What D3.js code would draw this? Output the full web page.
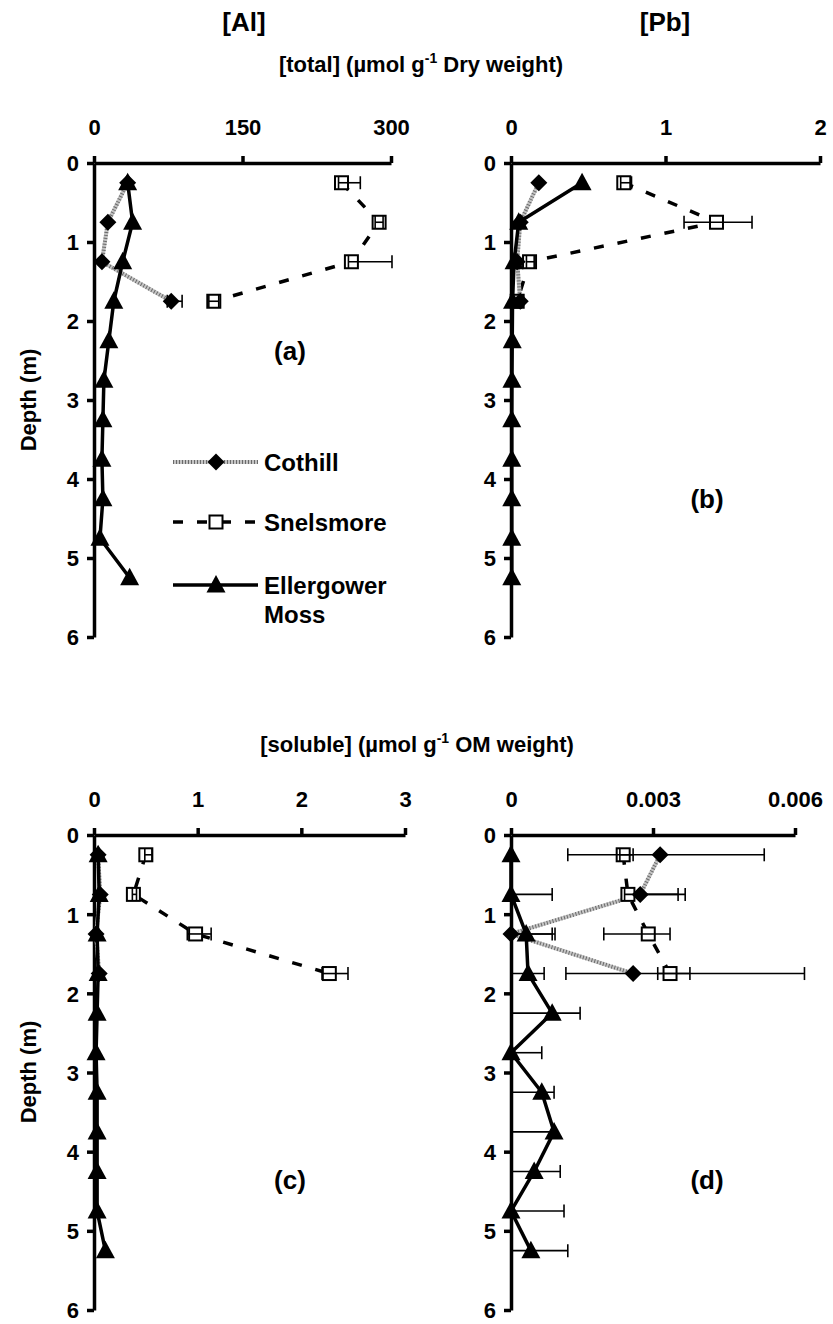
<!DOCTYPE html>
<html><head><meta charset="utf-8">
<script src="https://cdn.jsdelivr.net/npm/d3@7"></script>
<style>
body{margin:0;background:#fff}
svg text{font-family:"Liberation Sans",Arial,sans-serif;font-weight:bold;fill:#000}
</style>
</head><body>
<svg id="chart" width="833" height="1324"></svg>
<script>
// ---------------- data ----------------
const depths = [0.25, 0.75, 1.25, 1.75, 2.25, 2.75, 3.25, 3.75, 4.25, 4.75, 5.25];
const seriesNames = ["Cothill", "Snelsmore", "Ellergower Moss"];

// (a) total Al, µmol g-1 dry weight
const alCothill      = [34, 14, 8, 78];
const alCothillLo    = [null, null, null, 74];
const alCothillHi    = [null, null, null, 89];
const alSnelsmore    = [250, 288, 260, 121];
const alSnelsmoreLo  = [247, 284, 257, 116];
const alSnelsmoreHi  = [269, 292, 301, 126];
const alEllergower   = [34, 39, 29, 20, 15, 10, 9, 8, 9, 6, 36];

// (b) total Pb
const pbCothill      = [0.18, 0.06, 0.04, 0.06];
const pbSnelsmore    = [0.73, 1.33, 0.12, 0.04];
const pbSnelsmoreLo  = [0.71, 1.12, 0.10, null];
const pbSnelsmoreHi  = [0.78, 1.56, 0.15, null];
const pbEllergower   = [0.46, 0.05, 0.02, 0.01, 0.008, 0.006, 0.005, 0.005, 0.005, 0.005, 0.005];

// (c) soluble Al, µmol g-1 OM weight
const solAlCothill     = [0.04, 0.06, 0.02, 0.05];
const solAlSnelsmore   = [0.50, 0.38, 0.98, 2.27];
const solAlSnelsmoreLo = [0.49, 0.37, 0.90, 2.20];
const solAlSnelsmoreHi = [0.56, 0.41, 1.13, 2.45];
const solAlEllergower  = [0.04, 0.05, 0.03, 0.04, 0.03, 0.02, 0.03, 0.03, 0.03, 0.03, 0.11];

// (d) soluble Pb
const solPbCothill      = [0.00315, 0.00273, 0.0, 0.00258];
const solPbCothillLo    = [0.0012, 0.0027, 0.0, 0.00116];
const solPbCothillHi    = [0.00535, 0.00368, 0.00093, 0.00378];
const solPbSnelsmore    = [0.00237, 0.00247, 0.0029, 0.00336];
const solPbSnelsmoreLo  = [0.0023, 0.0024, 0.00196, 0.0031];
const solPbSnelsmoreHi  = [0.00258, 0.00353, 0.00336, 0.0062];
const solPbEllergower   = [0.0, 0.0, 0.00032, 0.00036, 0.00087, 0.0, 0.00065, 0.00091, 0.00049, 0.0, 0.00042];
const solPbEllergowerLo = [null, 0, 0, 0, 0, 0, 0, 0, 0, 0, 0];
const solPbEllergowerHi = [null, 0.00087, 0.00087, 0.0007, 0.00146, 0.00065, 0.00091, 0.00091, 0.00104, 0.00112, 0.0012];

// axes ticks
const depthTicks = [0, 1, 2, 3, 4, 5, 6];
const alTicks = [0, 150, 300],      alTickLabels = ["0", "150", "300"];
const pbTicks = [0, 1, 2],          pbTickLabels = ["0", "1", "2"];
const solAlTicks = [0, 1, 2, 3],    solAlTickLabels = ["0", "1", "2", "3"];
const solPbTicks = [0, 0.003, 0.006], solPbTickLabels = ["0", "0.003", "0.006"];

// ---------------- drawing ----------------
const svg = d3.select("#chart");
const TICK_FS = 22;

function pts(vals, lo, hi) {
  return vals.map((v, i) => ({d: depths[i], v: v,
    lo: lo ? lo[i] : null, hi: hi ? hi[i] : null}));
}

const panels = [
  {x: [94, 391], y: [163, 637], dom: [0, 300], ticks: alTicks, labels: alTickLabels, tag: "(a)", tagPos: [290, 360],
   series: [pts(alSnelsmore, alSnelsmoreLo, alSnelsmoreHi), pts(alCothill, alCothillLo, alCothillHi), pts(alEllergower)]},
  {x: [511, 820], y: [163, 637], dom: [0, 2], ticks: pbTicks, labels: pbTickLabels, tag: "(b)", tagPos: [707, 508],
   series: [pts(pbSnelsmore, pbSnelsmoreLo, pbSnelsmoreHi), pts(pbCothill), pts(pbEllergower)]},
  {x: [94, 405], y: [835, 1310], dom: [0, 3], ticks: solAlTicks, labels: solAlTickLabels, tag: "(c)", tagPos: [290, 1189],
   series: [pts(solAlSnelsmore, solAlSnelsmoreLo, solAlSnelsmoreHi), pts(solAlCothill), pts(solAlEllergower)]},
  {x: [511, 795], y: [835, 1310], dom: [0, 0.006], ticks: solPbTicks, labels: solPbTickLabels, tag: "(d)", tagPos: [707, 1189],
   series: [pts(solPbSnelsmore, solPbSnelsmoreLo, solPbSnelsmoreHi), pts(solPbCothill, solPbCothillLo, solPbCothillHi), pts(solPbEllergower, solPbEllergowerLo, solPbEllergowerHi)]}
];
// series order in panels: 0 Snelsmore, 1 Cothill, 2 Ellergower
const styleOf = ["snel", "coth", "ell"];

const diamondPath = "M0,-8.5L8.5,0L0,8.5L-8.5,0Z";
const trianglePath = "M0,-10L9.5,7.5L-9.5,7.5Z";

function drawLine(g, data, style, x, y) {
  const line = d3.line().x(d => x(d.v)).y(d => y(d.d));
  if (style === "coth") {
    g.append("path").attr("d", line(data)).attr("fill", "none").attr("stroke", "#c4c4c4").attr("stroke-width", 4);
    g.append("path").attr("d", line(data)).attr("fill", "none").attr("stroke", "#6a6a6a").attr("stroke-width", 4).attr("stroke-dasharray", "1,2");
  } else if (style === "snel") {
    g.append("path").attr("d", line(data)).attr("fill", "none").attr("stroke", "#000").attr("stroke-width", 3.5).attr("stroke-dasharray", "10,14");
  } else {
    g.append("path").attr("d", line(data)).attr("fill", "none").attr("stroke", "#000").attr("stroke-width", 3.5).attr("stroke-linejoin", "round");
  }
}
function drawMarker(g, cx, cy, style) {
  if (style === "coth") {
    g.append("path").attr("d", diamondPath).attr("transform", `translate(${cx},${cy})`).attr("fill", "#000");
  } else if (style === "snel") {
    g.append("rect").attr("x", cx - 6.5).attr("y", cy - 6.5).attr("width", 13).attr("height", 13)
      .attr("fill", "#fff").attr("stroke", "#000").attr("stroke-width", 2);
  } else {
    g.append("path").attr("d", trianglePath).attr("transform", `translate(${cx},${cy})`).attr("fill", "#000");
  }
}

panels.forEach(p => {
  const x = d3.scaleLinear().domain(p.dom).range(p.x);
  const y = d3.scaleLinear().domain([0, 6]).range(p.y);
  const g = svg.append("g");

  // axes
  const ax = g.append("g").attr("transform", `translate(0,${p.y[0]})`)
    .call(d3.axisTop(x).tickValues(p.ticks).tickFormat((d, i) => p.labels[i]).tickSize(7).tickSizeOuter(0).tickPadding(21));
  const ay = g.append("g").attr("transform", `translate(${p.x[0]},0)`)
    .call(d3.axisLeft(y).tickValues(depthTicks).tickFormat(d3.format("d")).tickSize(7).tickSizeOuter(0).tickPadding(8));
  [ax, ay].forEach(a => {
    a.selectAll("path.domain").attr("stroke", "#000").attr("stroke-width", 3.5);
    a.selectAll(".tick line").attr("stroke", "#000").attr("stroke-width", 3.5);
    a.selectAll(".tick text").attr("font-size", TICK_FS).attr("font-family", "Liberation Sans, Arial, sans-serif").attr("font-weight", "bold");
  });
  ay.selectAll(".tick text").attr("dy", "0.36em");

  const plot = g.append("g");
  // lines
  p.series.forEach((s, si) => drawLine(plot, s, styleOf[si], x, y));
  // markers
  p.series.forEach((s, si) => s.forEach(d => drawMarker(plot, x(d.v), y(d.d), styleOf[si])));
  // error bars
  p.series.forEach(s => s.forEach(d => {
    if (d.lo === null && d.hi === null) return;
    const lo = d.lo === null ? d.v : d.lo, hi = d.hi === null ? d.v : d.hi;
    const cy = y(d.d);
    plot.append("line").attr("x1", x(lo)).attr("x2", x(hi)).attr("y1", cy).attr("y2", cy)
      .attr("stroke", "#000").attr("stroke-width", 1.6);
    [d.lo, d.hi].forEach(e => {
      if (e === null || e === 0) return;
      plot.append("line").attr("x1", x(e)).attr("x2", x(e)).attr("y1", cy - 6.5).attr("y2", cy + 6.5)
        .attr("stroke", "#000").attr("stroke-width", 1.6);
    });
  }));

  g.append("text").attr("x", p.tagPos[0]).attr("y", p.tagPos[1]).attr("text-anchor", "middle")
    .attr("font-size", 26).text(p.tag);
});

// titles
svg.append("text").attr("x", 244).attr("y", 31).attr("text-anchor", "middle").attr("font-size", 26).text("[Al]");
svg.append("text").attr("x", 665).attr("y", 31).attr("text-anchor", "middle").attr("font-size", 26).text("[Pb]");

function unitTitle(cx, cy, pre, post) {
  const t = svg.append("text").attr("x", cx).attr("y", cy).attr("text-anchor", "middle").attr("font-size", 22);
  t.append("tspan").text(pre + " (µmol g");
  t.append("tspan").attr("font-size", 14).attr("dy", -9).text("-1");
  t.append("tspan").attr("dy", 9).text(" " + post + ")");
}
unitTitle(421, 72, "[total]", "Dry weight");
unitTitle(417, 752, "[soluble]", "OM weight");

[400, 1072].forEach(cy => {
  svg.append("text").attr("transform", `translate(36,${cy}) rotate(-90)`).attr("text-anchor", "middle")
    .attr("font-size", 22).text("Depth (m)");
});

// legend
const legY = [462, 522, 585];
const legStyles = ["coth", "snel", "ell"];
const lg = svg.append("g");
legStyles.forEach((st, i) => {
  const yy = legY[i];
  drawLine(lg, [{v: 173, d: yy}, {v: 258, d: yy}], st, v => v, d => d);
  drawMarker(lg, 216, yy, st);
});
lg.append("text").attr("x", 264).attr("y", legY[0] + 8.5).attr("font-size", 24).text(seriesNames[0]);
lg.append("text").attr("x", 264).attr("y", legY[1] + 8.5).attr("font-size", 24).text(seriesNames[1]);
const ellT = lg.append("text").attr("x", 264).attr("y", legY[2] + 8.5).attr("font-size", 24);
ellT.append("tspan").text(seriesNames[2].split(" ")[0]);
ellT.append("tspan").attr("x", 264).attr("dy", 29).text(seriesNames[2].split(" ")[1]);
</script>
</body></html>
